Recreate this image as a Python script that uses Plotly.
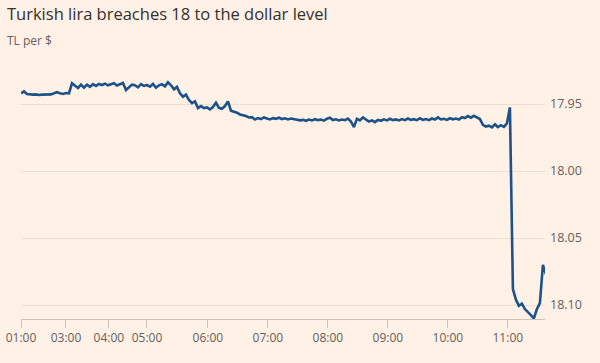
import plotly.graph_objects as go

# TL per $ readings, in order (index axis, trading ticks are unevenly spaced in time)
rate = [
    17.9420, 17.9405, 17.9425, 17.9428, 17.9430, 17.9428, 17.9432, 17.9430, 17.9428, 17.9430,
    17.9428, 17.9420, 17.9412, 17.9420, 17.9425, 17.9418, 17.9420, 17.9345, 17.9360, 17.9380,
    17.9355, 17.9378, 17.9355, 17.9372, 17.9352, 17.9365, 17.9350, 17.9358, 17.9348, 17.9360,
    17.9352, 17.9345, 17.9362, 17.9350, 17.9343, 17.9395, 17.9378, 17.9355, 17.9360, 17.9375,
    17.9352, 17.9365, 17.9358, 17.9370, 17.9350, 17.9378, 17.9360, 17.9352, 17.9368, 17.9338,
    17.9360, 17.9390, 17.9372, 17.9420, 17.9445, 17.9430, 17.9470, 17.9493, 17.9480, 17.9530,
    17.9515, 17.9530, 17.9525, 17.9540, 17.9522, 17.9490, 17.9528, 17.9535, 17.9515, 17.9480,
    17.9550, 17.9555, 17.9565, 17.9578, 17.9582, 17.9590, 17.9600, 17.9598, 17.9615, 17.9605,
    17.9612, 17.9600, 17.9608, 17.9615, 17.9605, 17.9610, 17.9602, 17.9612, 17.9606, 17.9615,
    17.9608, 17.9612, 17.9615, 17.9622, 17.9618, 17.9625, 17.9616, 17.9622, 17.9613, 17.9620,
    17.9616, 17.9624, 17.9610, 17.9602, 17.9620, 17.9614, 17.9622, 17.9616, 17.9620, 17.9608,
    17.9630, 17.9672, 17.9610, 17.9622, 17.9600, 17.9616, 17.9630, 17.9622, 17.9635, 17.9618,
    17.9625, 17.9614, 17.9622, 17.9610, 17.9620, 17.9615, 17.9622, 17.9612, 17.9620, 17.9608,
    17.9618, 17.9613, 17.9620, 17.9606, 17.9618, 17.9612, 17.9620, 17.9608, 17.9616, 17.9600,
    17.9615, 17.9610, 17.9618, 17.9606, 17.9614, 17.9608, 17.9615, 17.9598, 17.9605, 17.9590,
    17.9602, 17.9588, 17.9600, 17.9612, 17.9655, 17.9668, 17.9662, 17.9675, 17.9652, 17.9672,
    17.9658, 17.9670, 17.9645, 17.9525, 18.0880, 18.0960, 18.1005, 18.0990, 18.1030, 18.1050,
    18.1075, 18.1100, 18.1030, 18.0985, 18.0700, 18.0770,
]

tick_pos = [0, 15, 29.3, 42, 62.3, 82.3, 102.3, 122.3, 142.3, 162.3]
tick_labels = ["01:00", "03:00", "04:00", "05:00", "06:00", "07:00", "08:00", "09:00", "10:00", "11:00"]

y_ticks = [17.95, 18.00, 18.05, 18.10]
y_labels = ["17.95", "18.00", "18.05", "18.10"]

title = "Turkish lira breaches 18 to the dollar level"
subtitle = "TL per $"

FONT = "Open Sans"
BG = "#FFF1E5"
GREY = "#66605c"

fig = go.Figure(go.Scatter(
    x=list(range(len(rate))), y=rate, mode="lines",
    line=dict(color="#1c5289", width=2.6), hoverinfo="skip",
))

fig.update_layout(
    width=600, height=363,
    paper_bgcolor=BG, plot_bgcolor=BG,
    margin=dict(l=21, r=55, t=70, b=44, autoexpand=False),
    showlegend=False,
    font=dict(family=FONT, color=GREY, size=12),
    annotations=[
        dict(text=title, xref="paper", yref="paper", x=-16/524, y=1 + 57/249,
             xanchor="left", yanchor="middle", showarrow=False,
             font=dict(family=FONT, size=16.5, color="#33302e")),
        dict(text=subtitle, xref="paper", yref="paper", x=-16/524, y=1 + 30/249,
             xanchor="left", yanchor="middle", showarrow=False,
             font=dict(family=FONT, size=12, color=GREY)),
    ],
)
fig.update_xaxes(
    range=[0, 174.7], tickvals=tick_pos, ticktext=tick_labels,
    showline=True, linecolor="#cfc3b8", linewidth=1,
    ticks="outside", ticklen=8, tickcolor="#cfc3b8",
    showgrid=False, zeroline=False, automargin=False,
    tickfont=dict(family=FONT, size=12, color=GREY),
)
fig.update_yaxes(
    side="right", range=[18.1104, 17.9246], tickvals=y_ticks, ticktext=y_labels,
    showgrid=True, gridcolor="#ebdfd3", gridwidth=1,
    zeroline=False, showline=False, ticks="", automargin=False,
    ticklabelstandoff=4,
    tickfont=dict(family=FONT, size=12.5, color=GREY),
)

fig.write_html(
    "out.html",
    config={"displayModeBar": False},
    post_script="document.body.style.margin='0';document.body.style.background='#FFF1E5';",
)
